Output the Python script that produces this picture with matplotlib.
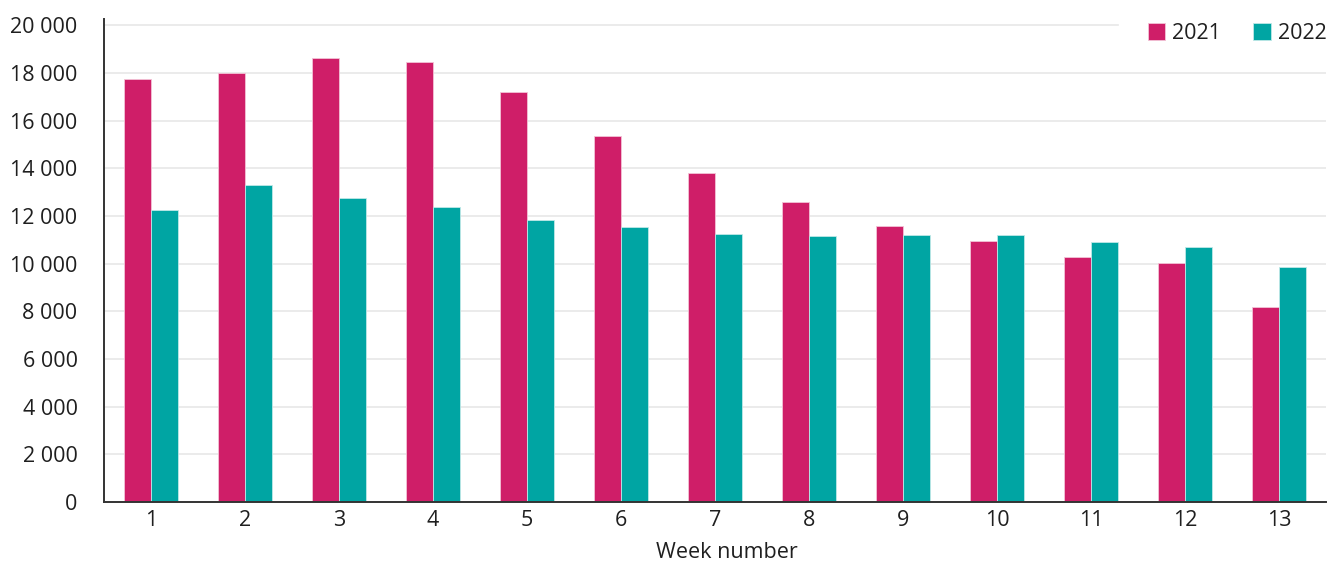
import matplotlib
matplotlib.use("Agg")
import matplotlib.pyplot as plt
import numpy as np
from matplotlib.ticker import FuncFormatter

plt.rcParams['font.family'] = ['Open Sans', 'DejaVu Sans']

weeks = [str(i) for i in range(1, 14)]
series_2021 = [17750, 18000, 18650, 18450, 17200, 15350, 13800, 12600, 11600, 10950, 10300, 10050, 8200]
series_2022 = [12250, 13300, 12750, 12400, 11850, 11550, 11250, 11150, 11200, 11200, 10900, 10700, 9850]
y_ticks = [0, 2000, 4000, 6000, 8000, 10000, 12000, 14000, 16000, 18000, 20000]

c2021 = '#CF1E68'
c2022 = '#00A5A3'
text_col = '#1f1f1f'
fs = 15.5

W, H = 1340, 561
fig = plt.figure(figsize=(W / 100, H / 100), dpi=100)
ax = fig.add_axes([104 / W, 1 - 502 / H, (1326 - 104) / W, (502 - 19) / H])

x = np.arange(1, len(weeks) + 1)
bw = 0.287
ax.bar(x - bw / 2, series_2021, width=bw, color=c2021, edgecolor='#f3c3d6',
       linewidth=0.6, label='2021', zorder=3)
ax.bar(x + bw / 2, series_2022, width=bw, color=c2022, edgecolor='#bfe8e7',
       linewidth=0.6, label='2022', zorder=3)

ax.set_xlim(0.5, len(weeks) + 0.5)
ax.set_ylim(0, 20270)
ax.set_xticks(x)
ax.set_xticklabels(weeks)
ax.set_yticks(y_ticks)
ax.yaxis.set_major_formatter(FuncFormatter(lambda v, p: f"{int(v):,}".replace(",", " ")))

# horizontal gridlines; the top one stops short of the legend
for t in y_ticks[1:]:
    xmax = (1118 - 104) / (1326 - 104) if t == y_ticks[-1] else 1.0
    ax.axhline(t, xmin=0, xmax=xmax, color='#e8e8e8', linewidth=1.2, zorder=1)

for s in ('top', 'right'):
    ax.spines[s].set_visible(False)
for s in ('left', 'bottom'):
    ax.spines[s].set_color('#333333')
    ax.spines[s].set_linewidth(1.4)
    ax.spines[s].set_zorder(4)

ax.tick_params(axis='both', length=0, labelsize=fs, colors=text_col)
ax.tick_params(axis='y', pad=19)
ax.tick_params(axis='x', pad=6)

ax.set_xlabel('Week number', fontsize=fs, color=text_col)
ax.xaxis.set_label_coords((727 - 104) / (1326 - 104), -0.083)

leg = fig.legend(loc='upper right', bbox_to_anchor=(1327 / W, 1 - 23 / H), ncol=2,
                 frameon=False, fontsize=fs, handlelength=0.8, handleheight=0.8,
                 handletextpad=0.35, columnspacing=1.5, borderpad=0, borderaxespad=0)
for t in leg.get_texts():
    t.set_color(text_col)

fig.savefig('out.png', dpi=100, facecolor='white')
